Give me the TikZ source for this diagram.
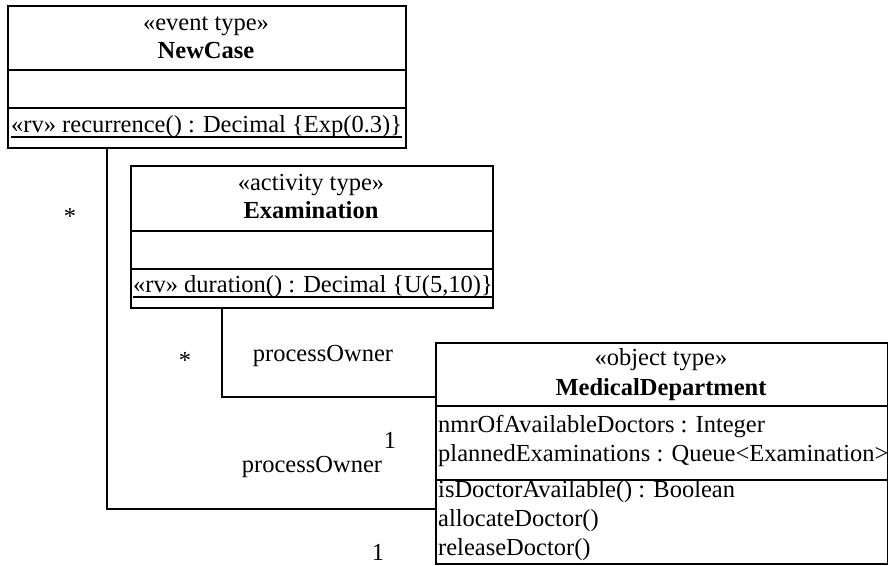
\documentclass[tikz,border=0pt]{standalone}
\usepackage{fontspec}
\setmainfont{Liberation Serif}
\begin{document}
\begin{tikzpicture}[x=1pt,y=-1pt,
  font=\fontsize{24.5}{29}\selectfont,
  classbox/.style={draw, line width=2pt, inner sep=0pt, anchor=north west},
  divider/.style={line width=2pt},
  uline/.style={line width=2pt},
  ctext/.style={inner sep=0pt, anchor=base},
  ltext/.style={inner sep=0pt, anchor=base west},
  assoc/.style={line width=1.4pt}]
\useasboundingbox (0,0) rectangle (888,565);

% NewCase
\node[classbox, minimum width=398pt, minimum height=142pt] (newcase) at (7,5) {};
\draw[divider] (newcase.west |- 0,70) -- (newcase.east |- 0,70);
\draw[divider] (newcase.west |- 0,108) -- (newcase.east |- 0,108);
\node[ctext] (nctype) at (206,30) {«event type»};
\node[ctext] (ncname) at (206,58) {\textbf{NewCase}};
\node[ltext] (ncop) at (11,132) {«rv» recurrence() : Decimal \{Exp(0.3)\}};
\draw[uline] ([yshift=-5pt]ncop.base west) -- ([yshift=-5pt]ncop.base east);

% Examination
\node[classbox, minimum width=362pt, minimum height=142pt] (exam) at (130,165) {};
\draw[divider] (exam.west |- 0,231) -- (exam.east |- 0,231);
\draw[divider] (exam.west |- 0,269) -- (exam.east |- 0,269);
\node[ctext] (extype) at (311,190) {«activity type»};
\node[ctext] (exname) at (311,218) {\textbf{Examination}};
\node[ltext] (exop) at (133,292) {«rv» duration() : Decimal \{U(5,10)\}};
\draw[uline] ([yshift=-5pt]exop.base west) -- ([yshift=-5pt]exop.base east);

% MedicalDepartment
\node[classbox, minimum width=452pt, minimum height=221pt] (med) at (435,342) {};
\draw[divider] (med.west |- 0,406) -- (med.east |- 0,406);
\draw[divider] (med.west |- 0,480) -- (med.east |- 0,480);
\node[ctext] (medtype) at (661,365) {«object type»};
\node[ctext] (medname) at (661,395) {\textbf{MedicalDepartment}};
\node[ltext] (meda1) at (438,432) {nmrOfAvailableDoctors : Integer};
\node[ltext] (meda2) at (438,461) {plannedExaminations : Queue<Examination>};
\node[ltext] (medo1) at (438,497) {isDoctorAvailable() : Boolean};
\node[ltext] (medo2) at (438,526) {allocateDoctor()};
\node[ltext] (medo3) at (438,555) {releaseDoctor()};

% associations
\coordinate (bendA) at (107,509);
\coordinate (bendB) at (222,397);
\draw[assoc] (newcase.south -| bendA) -- (bendA) -- (bendA -| med.west);
\draw[assoc] (exam.south -| bendB) -- (bendB) -- (bendB -| med.west);

% association ends
\node[ctext] (starA) at (70,224) {*};
\node[ctext] (starB) at (185,368) {*};
\node[ctext] (roleB) at (323,361) {processOwner};
\node[ctext] (oneB) at (390,448) {1};
\node[ctext] (roleA) at (312,472) {processOwner};
\node[ctext] (oneA) at (378,560) {1};
\end{tikzpicture}
\end{document}
